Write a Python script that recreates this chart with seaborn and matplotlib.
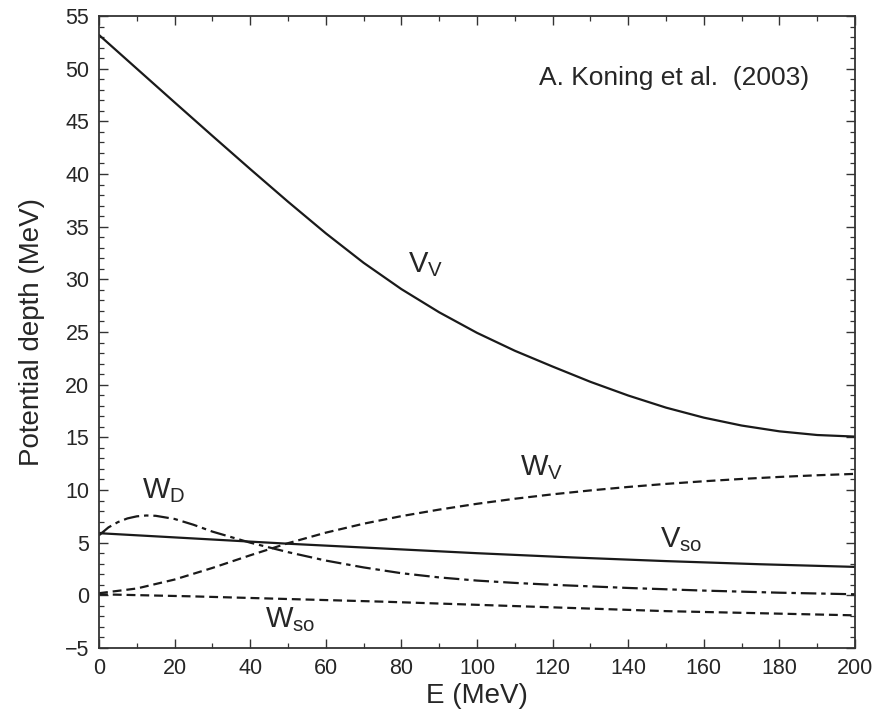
import matplotlib
matplotlib.use("Agg")
import matplotlib.pyplot as plt
import seaborn as sns
from matplotlib.ticker import MultipleLocator

# ---- data ----
E_vv = [0, 10, 20, 30, 40, 50, 60, 70, 80, 90, 100, 110, 120, 130, 140, 150, 160, 170, 180, 190, 200]
V_V = [53.2, 50.0, 46.8, 43.62, 40.47, 37.37, 34.37, 31.57, 29.07, 26.87, 24.92, 23.22, 21.72,
       20.27, 18.97, 17.82, 16.87, 16.12, 15.57, 15.22, 15.07]

E_vso = [0, 25, 50, 75, 100, 125, 150, 175, 200]
V_so = [5.9, 5.4, 4.9, 4.45, 4.0, 3.6, 3.25, 2.95, 2.7]

E_wv = [0, 10, 20, 30, 40, 50, 60, 70, 80, 90, 100, 110, 120, 130, 140, 150, 160, 170, 180, 190, 200]
W_V = [0.2, 0.65, 1.5, 2.6, 3.8, 4.95, 5.95, 6.8, 7.52, 8.14, 8.69, 9.17, 9.59, 9.96, 10.29,
       10.58, 10.83, 11.05, 11.24, 11.4, 11.53]

E_wd = [0, 2.5, 5, 7.5, 10, 12.5, 15, 20, 25, 30, 40, 50, 60, 70, 80, 90, 100, 110, 120, 140, 160, 180, 200]
W_D = [5.7, 6.45, 6.95, 7.3, 7.5, 7.58, 7.55, 7.25, 6.7, 6.05, 5.0, 4.1, 3.3, 2.65, 2.1, 1.7, 1.4,
       1.18, 1.0, 0.7, 0.45, 0.25, 0.1]

E_wso = [0, 25, 50, 75, 100, 125, 150, 175, 200]
W_so = [0.1, -0.1, -0.35, -0.6, -0.9, -1.2, -1.5, -1.7, -1.9]

labels = ["V$_V$", "W$_V$", "W$_D$", "V$_{so}$", "W$_{so}$"]
citation = "A. Koning et al.  (2003)"

sns.set_style("ticks")
plt.rcParams['font.family'] = ['Liberation Sans', 'DejaVu Sans']
plt.rcParams['mathtext.default'] = 'regular'

fig = plt.figure(figsize=(8.75, 7.1), dpi=100)
ax = fig.add_axes([99/875, 1 - 648/710, (855 - 99)/875, (648 - 16)/710])

lw = 1.6
col = '#1a1a1a'
sns.lineplot(x=E_vv, y=V_V, ax=ax, color=col, lw=lw)
sns.lineplot(x=E_vso, y=V_so, ax=ax, color=col, lw=lw)
sns.lineplot(x=E_wv, y=W_V, ax=ax, color=col, lw=lw)
ax.lines[-1].set_dashes((4, 2.2))
sns.lineplot(x=E_wso, y=W_so, ax=ax, color=col, lw=lw)
ax.lines[-1].set_dashes((4, 2.2))
sns.lineplot(x=E_wd, y=W_D, ax=ax, color=col, lw=lw)
ax.lines[-1].set_dashes((7, 2.2, 2, 2.2))

ax.set_xlim(0, 200)
ax.set_ylim(-5, 55)
ax.xaxis.set_major_locator(MultipleLocator(20))
ax.xaxis.set_minor_locator(MultipleLocator(10))
ax.yaxis.set_major_locator(MultipleLocator(5))
ax.yaxis.set_minor_locator(MultipleLocator(1))
ax.tick_params(which='both', direction='in', top=True, right=True, color='#333333')
ax.tick_params(which='major', length=6.5, width=1.0, labelsize=15.5, pad=7)
ax.tick_params(which='minor', length=3.8, width=0.9)
for s in ax.spines.values():
    s.set_linewidth(1.3)
    s.set_color('#333333')
ax.set_yticklabels([("\u22125" if v < 0 else f"{int(v)}") for v in ax.get_yticks()])

ax.set_xlabel("E (MeV)", fontsize=20, labelpad=3)
ax.set_ylabel("Potential depth (MeV)", fontsize=20, labelpad=14)

fs = 21
ax.text(81.7, 30.7, labels[0], fontsize=fs, ha='left', va='baseline')
ax.text(111.4, 11.4, labels[1], fontsize=fs, ha='left', va='baseline')
ax.text(11.3, 9.2, labels[2], fontsize=fs, ha='left', va='baseline')
ax.text(148.4, 4.6, labels[3], fontsize=fs, ha='left', va='baseline')
ax.text(43.9, -3.0, labels[4], fontsize=fs, ha='left', va='baseline')
ax.text(116.5, 48.45, citation, fontsize=19, ha='left', va='baseline')

fig.savefig("out.png", dpi=100)
